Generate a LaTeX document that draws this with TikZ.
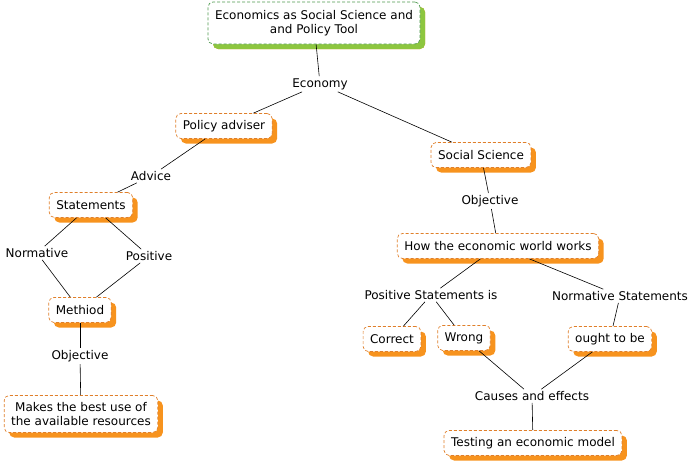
\documentclass[tikz,border=0pt]{standalone}
\usepackage{fontspec}
\setmainfont{DejaVu Sans}
\usetikzlibrary{shadows}
\definecolor{boxline}{HTML}{E07F2A}
\definecolor{boxshadow}{HTML}{F7931E}
\definecolor{topline}{HTML}{4E9A4E}
\definecolor{topshadow}{HTML}{8DC63F}
\begin{document}
\begin{tikzpicture}[x=1pt,y=-1pt,
  every node/.style={font=\fontsize{12}{14}\selectfont},
  concept/.style={draw=boxline, dash pattern=on 3pt off 2pt, fill=white, rounded corners=5pt,
    inner xsep=7pt, minimum height=25pt, line width=0.7pt,
    drop shadow={shadow xshift=5pt, shadow yshift=-5pt, fill=boxshadow, opacity=1}},
  topconcept/.style={concept, draw=topline,
    drop shadow={shadow xshift=5pt, shadow yshift=-5pt, fill=topshadow, opacity=1}},
  linklabel/.style={inner sep=2pt},
  link/.style={black, line width=0.6pt}
]
\useasboundingbox (0,0) rectangle (691,463);
\node[topconcept, align=center, minimum width=212pt, minimum height=42pt] (top) at (314,23) {Economics as Social Science and\\and Policy Tool};
\node[linklabel] (economy) at (320,84) {Economy};
\node[concept] (policy) at (224,126) {Policy adviser};
\node[concept] (social) at (481,155) {Social Science};
\node[linklabel] (advice) at (151,176) {Advice};
\node[concept] (statements) at (91,205) {Statements};
\node[linklabel] (normative) at (37,253) {Normative};
\node[linklabel] (positive) at (149,256) {Positive};
\node[concept] (methiod) at (80,310) {Methiod};
\node[linklabel] (objl) at (80,356) {Objective};
\node[concept, align=center, minimum height=37pt] (makes) at (81,414) {Makes the best use of\\the available resources};
\node[linklabel] (objr) at (490,201) {Objective};
\node[concept] (how) at (498,246) {How the economic world works};
\node[linklabel] (posst) at (431,295) {Positive Statements is};
\node[linklabel] (normst) at (620,296) {Normative Statements};
\node[concept] (correct) at (392,339) {Correct};
\node[concept] (wrong) at (464,338) {Wrong};
\node[concept] (ought) at (610,339) {ought to be};
\node[linklabel] (causes) at (532,396) {Causes and effects};
\node[concept] (testing) at (533,443) {Testing an economic model};

\draw[link] (top) -- (economy);
\draw[link] (economy) -- (policy);
\draw[link] (economy) -- (social);
\draw[link] (policy) -- (advice);
\draw[link] (advice) -- (statements);
\draw[link] (statements) -- (normative);
\draw[link] (normative) -- (methiod);
\draw[link] (statements) -- (positive);
\draw[link] (positive) -- (methiod);
\draw[link] (methiod) -- (objl);
\draw[link] (objl) -- (makes);
\draw[link] (social) -- (objr);
\draw[link] (objr) -- (how);
\draw[link] (how) -- (posst);
\draw[link] (how) -- (normst);
\draw[link] (posst) -- (correct);
\draw[link] (posst) -- (wrong);
\draw[link] (normst) -- (ought);
\draw[link] (wrong) -- (causes);
\draw[link] (ought) -- (causes);
\draw[link] (causes) -- (testing);
\end{tikzpicture}
\end{document}
